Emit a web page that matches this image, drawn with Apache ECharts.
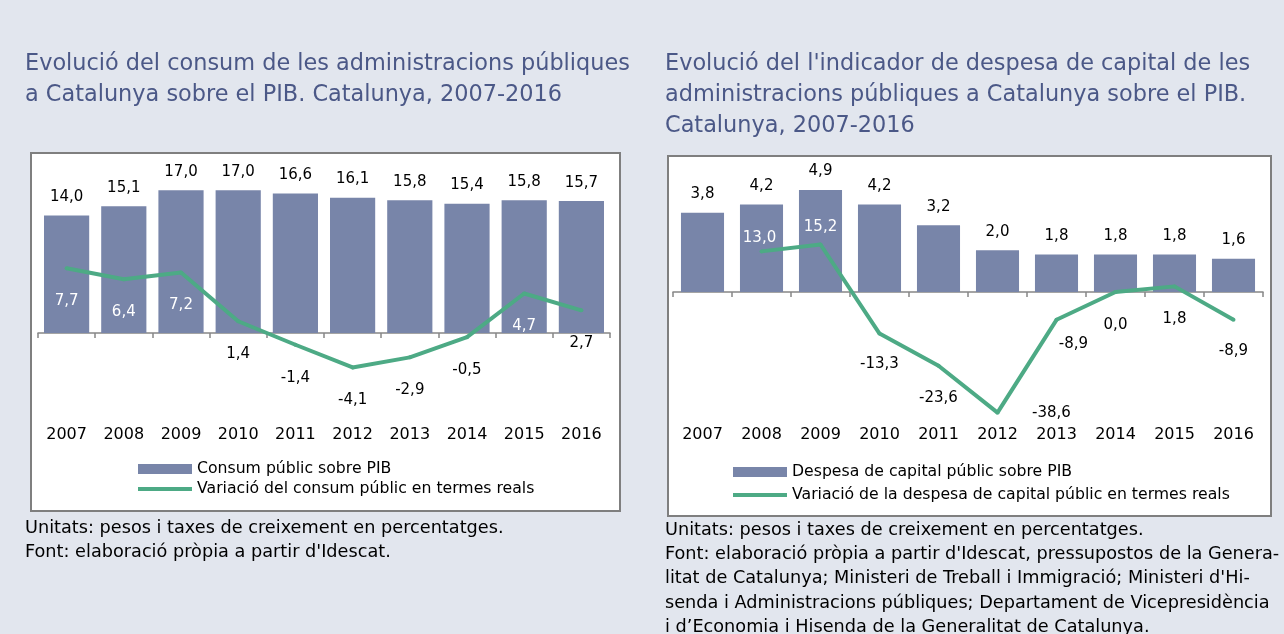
<!DOCTYPE html>
<html>
<head>
<meta charset="utf-8">
<script src="https://cdn.jsdelivr.net/npm/echarts@6/dist/echarts.min.js"></script>
<style>
  html, body { margin: 0; padding: 0; background: #e2e6ee; }
  #main { width: 1284px; height: 634px; }
</style>
</head>
<body>
<div id="main"></div>
<script>
// dades
var years = ['2007', '2008', '2009', '2010', '2011', '2012', '2013', '2014', '2015', '2016'];
var consumPib = [14.0, 15.1, 17.0, 17.0, 16.6, 16.1, 15.8, 15.4, 15.8, 15.7];
var consumVar = [7.7, 6.4, 7.2, 1.4, -1.4, -4.1, -2.9, -0.5, 4.7, 2.7];
var capitalPib = [3.8, 4.2, 4.9, 4.2, 3.2, 2.0, 1.8, 1.8, 1.8, 1.6];
var capitalVar = [null, 13.0, 15.2, -13.3, -23.6, -38.6, -8.9, 0.0, 1.8, -8.9];

var FONT = 'DejaVu Sans';
var BAR = '#7885a9';
var LINE = '#4daa85';

// desplaçament manual de les etiquetes de la línia (com a l'original)
var labelNudge2 = [[0, 0], [-2, -13], [0, -17], [0, 31], [0, 32], [54, 0], [17, 24], [0, 33], [0, 33], [0, 31]];

function fmt(p) {
    if (p.value == null) return '';
    return Number(p.value).toFixed(1).replace('.', ',');
}

var chart = echarts.init(document.getElementById('main'));

function labelAxis(grid) {
    return {
        type: 'category', gridIndex: grid, data: years, position: 'bottom',
        axisLine: { show: false, onZero: false }, axisTick: { show: false },
        axisLabel: { margin: 10, fontSize: 16, color: '#000', fontFamily: FONT }
    };
}
function zeroAxis(grid) {
    return {
        type: 'category', gridIndex: grid, data: years, position: 'bottom',
        axisLine: { show: true, onZero: true, lineStyle: { color: '#868686', width: 1.5 } },
        axisTick: { show: true, length: 5, lineStyle: { color: '#868686', width: 1.5 } },
        axisLabel: { show: false }
    };
}

var titleStyle = { fontSize: 22.4, fontWeight: 'normal', color: '#4b5887', lineHeight: 31, fontFamily: FONT };
var noteStyle = { fontSize: 17.7, fontWeight: 'normal', color: '#000', lineHeight: 24.3, fontFamily: FONT };
var legendText = { fontSize: 15.7, color: '#000', fontFamily: FONT };

var option = {
    backgroundColor: '#e2e6ee',
    animation: false,
    textStyle: { fontFamily: FONT },
    title: [
        { text: 'Evolució del consum de les administracions públiques\na Catalunya sobre el PIB. Catalunya, 2007-2016',
          left: 25, top: 49, padding: 0, textStyle: titleStyle },
        { text: "Evolució del l'indicador de despesa de capital de les\nadministracions públiques a Catalunya sobre el PIB.\nCatalunya, 2007-2016",
          left: 665, top: 49, padding: 0, textStyle: titleStyle },
        { text: "Unitats: pesos i taxes de creixement en percentatges.\nFont: elaboració pròpia a partir d'Idescat.",
          left: 25, top: 516, padding: 0, textStyle: noteStyle },
        { text: "Unitats: pesos i taxes de creixement en percentatges.\nFont: elaboració pròpia a partir d'Idescat, pressupostos de la Genera-\nlitat de Catalunya; Ministeri de Treball i Immigració; Ministeri d'Hi-\nsenda i Administracions públiques; Departament de Vicepresidència\ni d’Economia i Hisenda de la Generalitat de Catalunya.",
          left: 665, top: 518, padding: 0, textStyle: noteStyle }
    ],
    graphic: [
        { type: 'rect', z: -10, silent: true, shape: { x: 31, y: 153, width: 589, height: 358 },
          style: { fill: '#fff', stroke: '#7f7f7f', lineWidth: 2 } },
        { type: 'rect', z: -10, silent: true, shape: { x: 668, y: 156, width: 603, height: 360 },
          style: { fill: '#fff', stroke: '#7f7f7f', lineWidth: 2 } }
    ],
    legend: [
        { orient: 'vertical', left: 136, top: 461, padding: 0, itemWidth: 54, itemHeight: 10, itemGap: 4,
          textStyle: legendText, lineStyle: { width: 4 },
          data: [{ name: 'Consum públic sobre PIB', icon: 'rect' },
                 { name: 'Variació del consum públic en termes reals', itemStyle: { opacity: 0 } }] },
        { orient: 'vertical', left: 731, top: 464, padding: 0, itemWidth: 54, itemHeight: 10, itemGap: 7,
          textStyle: legendText, lineStyle: { width: 4 },
          data: [{ name: 'Despesa de capital públic sobre PIB', icon: 'rect' },
                 { name: 'Variació de la despesa de capital públic en termes reals', itemStyle: { opacity: 0 } }] }
    ],
    grid: [
        { left: 38, top: 165, width: 572, height: 252 },
        { left: 673, top: 167, width: 590, height: 250 }
    ],
    xAxis: [labelAxis(0), zeroAxis(0), labelAxis(1), zeroAxis(1)],
    yAxis: [
        { type: 'value', gridIndex: 0, min: -10, max: 20, show: false },
        { type: 'value', gridIndex: 1, min: -6, max: 6, show: false },
        { type: 'value', gridIndex: 1, min: -40, max: 40, show: false }
    ],
    series: [
        { name: 'Consum públic sobre PIB', type: 'bar', xAxisIndex: 0, yAxisIndex: 0,
          data: consumPib, barCategoryGap: '21%', itemStyle: { color: BAR },
          label: { show: true, position: 'top', distance: 11, formatter: fmt, fontSize: 15, color: '#000', fontFamily: FONT } },
        { name: 'Variació del consum públic en termes reals', type: 'line', xAxisIndex: 0, yAxisIndex: 0,
          data: consumVar.map(function (v) { return { value: v, label: { color: v > 4 ? '#fff' : '#000' } }; }),
          symbol: 'circle', symbolSize: 4, itemStyle: { color: LINE },
          lineStyle: { color: LINE, width: 4 },
          label: { show: true, position: 'inside', offset: [0, 33], formatter: fmt, fontSize: 15, fontFamily: FONT } },
        { name: 'Despesa de capital públic sobre PIB', type: 'bar', xAxisIndex: 2, yAxisIndex: 1,
          data: capitalPib, barCategoryGap: '27%', itemStyle: { color: BAR },
          label: { show: true, position: 'top', distance: 11, formatter: fmt, fontSize: 15, color: '#000', fontFamily: FONT } },
        { name: 'Variació de la despesa de capital públic en termes reals', type: 'line', xAxisIndex: 2, yAxisIndex: 2,
          data: capitalVar.map(function (v, i) {
              return { value: v, label: { offset: labelNudge2[i], color: v > 10 ? '#fff' : '#000' } };
          }),
          symbol: 'circle', symbolSize: 4, itemStyle: { color: LINE },
          lineStyle: { color: LINE, width: 4 },
          label: { show: true, position: 'inside', formatter: fmt, fontSize: 15, fontFamily: FONT } }
    ]
};

chart.setOption(option);
</script>
</body>
</html>
